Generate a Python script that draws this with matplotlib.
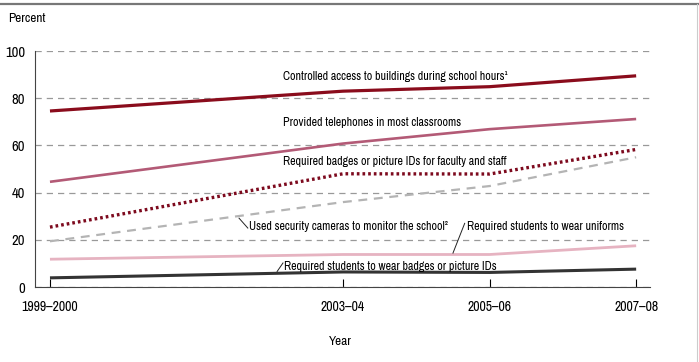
import matplotlib
matplotlib.use("Agg")
import matplotlib.pyplot as plt
from matplotlib.lines import Line2D

plt.rcParams["font.family"] = ["Archivo Narrow", "Liberation Sans", "DejaVu Sans"]

## Data
years = [1999, 2003, 2005, 2007]
year_labels = ["1999\u20132000", "2003\u201304", "2005\u201306", "2007\u201308"]

controlled_access = [74.6, 83.0, 84.9, 89.5]
telephones = [44.6, 60.8, 66.9, 71.2]
badges_staff = [25.4, 48.0, 47.9, 58.3]
cameras = [19.4, 36.0, 42.8, 55.0]
uniforms = [11.8, 13.8, 13.8, 17.5]
badges_students = [3.9, 6.4, 6.2, 7.6]

## Figure
fig = plt.figure(figsize=(6.99, 3.62), dpi=100)
ax = fig.add_axes([0.050, 0.207, 0.880, 0.652])

ax.plot(years, controlled_access, color="#8a0c1c", lw=2.3, solid_capstyle="butt")
ax.plot(years, telephones, color="#b35a76", lw=1.9, solid_capstyle="butt")
ax.plot(years, badges_staff, color="#7d0a1e", lw=2.4, ls=(0, (0.8, 0.9)))
ax.plot(years, cameras, color="#b4b4b4", lw=1.6, ls=(0, (4, 3)))
ax.plot(years, uniforms, color="#e6b3c1", lw=2.0, solid_capstyle="butt")
ax.plot(years, badges_students, color="#333333", lw=2.2, solid_capstyle="butt")

# Axes styling
ax.set_xlim(1998.795, 2007.19)
ax.set_ylim(0, 100)
ax.set_yticks([0, 20, 40, 60, 80, 100])
ax.set_xticks(years)
ax.set_xticklabels(year_labels)
ax.tick_params(axis="y", length=0, labelsize=10.5, pad=7)
ax.tick_params(axis="x", direction="in", length=6, width=0.8, labelsize=10, pad=9)
ax.grid(axis="y", color="#999999", ls=(0, (5, 4)), lw=0.9)
ax.spines["top"].set_visible(False)
ax.spines["right"].set_visible(False)
ax.spines["left"].set_color("#444444")
ax.spines["bottom"].set_color("#444444")

fig.text(0.012, 0.948, "Percent", fontsize=9.5, va="center")
fig.text(0.487, 0.058, "Year", fontsize=9.5, ha="center", va="center")

# Series labels
lbl = dict(fontsize=8.6, ha="left", va="center")
ax.text(2002.18, 89.4, "Controlled access to buildings during school hours\u00b9", **lbl)
ax.text(2002.18, 69.9, "Provided telephones in most classrooms", **lbl)
ax.text(2002.18, 53.0, "Required badges or picture IDs for faculty and staff", **lbl)
ax.text(2001.72, 25.6, "Used security cameras to monitor the school\u00b2", **lbl)
ax.text(2004.69, 25.6, "Required students to wear uniforms", **lbl)
ax.text(2002.19, 8.9, "Required students to wear badges or picture IDs", **lbl)

# Leader lines
ax.plot([2001.58, 2001.70], [29.2, 25.0], color="#222222", lw=0.7)
ax.plot([2004.50, 2004.66], [14.4, 27.0], color="#222222", lw=0.7)
ax.plot([2002.10, 2002.18], [6.6, 10.2], color="#222222", lw=0.7)

# Frame bits around the figure
fig.add_artist(Line2D([0, 1], [0.988, 0.988], transform=fig.transFigure, color="#777777", lw=1.6))
fig.add_artist(Line2D([0.997, 0.997], [0, 0.988], transform=fig.transFigure, color="#cccccc", lw=0.8))

fig.savefig("out.png", dpi=100)
